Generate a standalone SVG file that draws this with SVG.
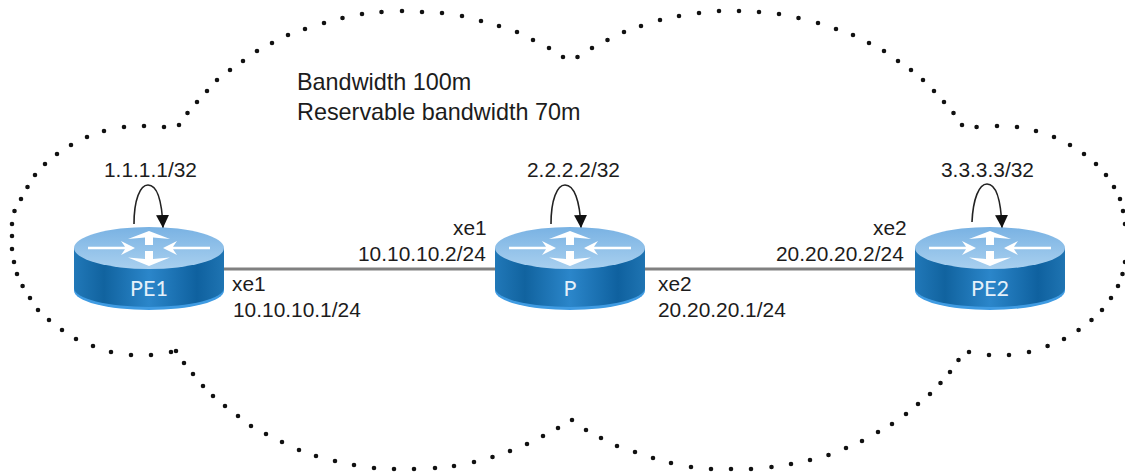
<svg xmlns="http://www.w3.org/2000/svg" xmlns:xlink="http://www.w3.org/1999/xlink" width="1125" height="472" viewBox="0 0 1125 472">
<style>
text{font-family:"Liberation Sans",Arial,sans-serif;font-size:20.9px;fill:#1c1c1c}
.big{font-size:23.4px}
.rl{font-family:Lato,"Open Sans",sans-serif;font-size:21.5px;fill:#e4f0fa;text-anchor:middle}
.cloud{fill:none;stroke:#111;stroke-width:4.6;stroke-linecap:round}
.link{stroke:#808080;stroke-width:3;fill:none}
.loop{fill:none;stroke:#222;stroke-width:1.6}
</style>
<defs>
<linearGradient id="body" x1="0" x2="1" y1="0" y2="0">
<stop offset="0" stop-color="#2178b8"/><stop offset=".2" stop-color="#11639f"/><stop offset=".5" stop-color="#2b86ca"/><stop offset=".82" stop-color="#0f619f"/><stop offset="1" stop-color="#1f74b2"/>
</linearGradient>
<linearGradient id="top" x1="0" x2="0" y1="0" y2="1">
<stop offset="0" stop-color="#79b2e3"/><stop offset="1" stop-color="#a9d0ef"/>
</linearGradient>
<marker id="arr" viewBox="0 0 12 12" refX="12" refY="6" markerWidth="13" markerHeight="13" markerUnits="userSpaceOnUse" orient="auto"><path d="M0 0L12 6L0 12Z" fill="#111"/></marker>
<g id="router">
<path d="M-75 0V42.500A75 19.500 0 0 0 75 42.500V0Z" fill="#3f9be2"/>
<path d="M-75 0V40A75 19 0 0 0 75 40V0Z" fill="url(#body)"/>
<ellipse cx="0" cy="0" rx="75" ry="21" fill="url(#top)"/>
<g fill="#fff">
<path d="M-61 -1.300H-24L-28 -7L-14 0L-28 7L-24 1.300H-61Z"/>
<path d="M61 -1.300H24L28 -7L14 0L28 7L24 1.300H61Z"/>
<path d="M0 -17L-21 -9L-4 -10.500V-3H4V-10.500L21 -9ZM-4 3V11L-21 9.500L0 18L21 9.500L4 11V3Z"/>
</g>
</g>
</defs>
<path id="cloud" class="cloud" d="M12 249h0M12 236h0M12 224h0M14.500 211h0M21 199h0M27.500 187h0M35 175h0M45 164h0M57 154h0M71 145h0M87 137h0M104 131h0M124 127h0M144 126h0M164 127h0M179 125h0M187.500 113h0M197 102h0M207 91h0M217 80h0M230 70h0M243 61h0M257 51h0M272 43h0M288 35h0M305 29h0M324 23h0M342.500 18h0M362 14h0M381.500 12h0M402 11h0M422 12h0M442 13h0M462 16h0M481 21h0M499 26h0M517 32h0M533 40h0M549 48h0M563 57h0M577.500 57h0M592 48h0M607.500 40h0M624 32h0M641 26h0M660 20h0M679 16h0M699 13h0M719 11h0M739 11h0M759 12h0M779 14h0M798.500 18h0M818 23h0M836 29h0M853 35h0M869 43h0M884 51h0M898 61h0M911 70h0M923 80h0M934 91h0M944 102h0M953.500 113h0M962 125h0M976.600 127h0M997 126h0M1017 127h0M1036 131h0M1054 137h0M1070 145h0M1084 154h0M1096 164h0M1106 175h0M1114 187h0M1120 199h0M1123 211h0M1125 224h0M1125 262h0M1122.500 274h0M1118 286h0M1111 298h0M1102 310h0M1091.500 320h0M1078.600 330h0M1064 339h0M1047.600 346h0M1029 352h0M1009 355h0M989 355h0M969 352h0M958.500 360h0M950 372h0M940.500 383h0M930 394h0M918 404h0M906 414h0M892 424h0M878 432h0M862 441h0M846 448h0M828.500 455h0M810 460h0M791 464h0M771.500 467h0M751 469h0M731 469h0M711 469h0M691 467h0M671 463h0M653 458h0M635 452h0M617 446h0M601 438h0M586 430h0M572 420h0M558 428h0M543 436h0M527 444h0M510 451h0M492.500 457h0M474 462h0M454 466h0M435 468h0M414 469h0M394 469h0M374 468h0M354 465h0M335 461h0M316 456h0M299 450h0M282 442h0M266 434h0M251 426h0M238 416h0M225 406h0M213 396h0M203 386h0M193 374h0M184 363h0M176 351h0M171 352h0M151 355h0M131 355h0M111 352h0M93 346h0M76 339h0M62 330h0M49 320h0M38 310h0M30 298h0M22.600 286h0M17 274h0M14 262h0"/>
<g id="connectors">
<path class="link" d="M224 269H495"/>
<path class="link" d="M645 269H915"/>
<path class="loop" marker-end="url(#arr)" d="M134 224C134 200 140 185 148 185C157 185 162 200 163 228"/>
<path class="loop" marker-end="url(#arr)" d="M551 224C551 200 557 185 565 185C574 185 580 200 581 228"/>
<path class="loop" marker-end="url(#arr)" d="M972 222C973 199 979 184 987 184C996 184 1001 200 1002 228"/>
</g>
<g id="PE1"><use href="#router" xlink:href="#router" x="149" y="248"/><text class="rl" x="149" y="296">PE1</text></g>
<g id="P"><use href="#router" xlink:href="#router" x="570" y="248"/><text class="rl" x="570" y="296">P</text></g>
<g id="PE2"><use href="#router" xlink:href="#router" x="990" y="248"/><text class="rl" x="990" y="296">PE2</text></g>
<g id="labels">
<text class="big" x="297" y="90">Bandwidth 100m</text>
<text class="big" x="297" y="120">Reservable bandwidth 70m</text>
<text x="104" y="177">1.1.1.1/32</text>
<text x="527" y="177">2.2.2.2/32</text>
<text x="941" y="177">3.3.3.3/32</text>
<text x="453" y="235">xe1</text>
<text x="358" y="261">10.10.10.2/24</text>
<text x="232" y="291">xe1</text>
<text x="233" y="317">10.10.10.1/24</text>
<text x="873" y="235">xe2</text>
<text x="776" y="261">20.20.20.2/24</text>
<text x="658" y="291">xe2</text>
<text x="658" y="317">20.20.20.1/24</text>
</g>
</svg>
